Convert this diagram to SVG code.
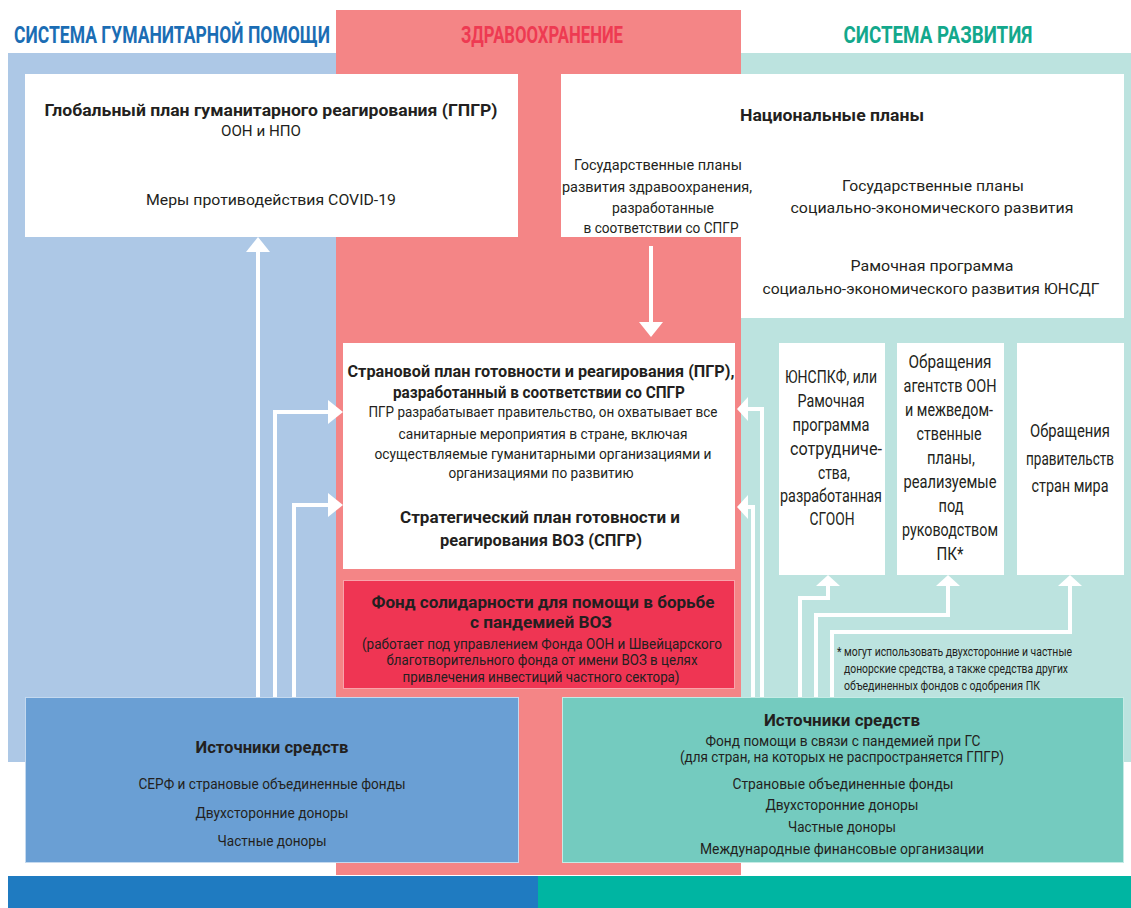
<svg xmlns="http://www.w3.org/2000/svg" width="1131" height="908" viewBox="0 0 1131 908">
<style>
.t{font-family:Roboto,"Liberation Sans","Noto Sans",sans-serif;fill:#231f20;text-anchor:middle}
.b{font-weight:bold}
.s17{font-size:17px}
.s15{font-size:15.5px}
.s14{font-size:14.5px}
.s18{font-size:17.5px}
.s13{font-size:13px}
.h{font-family:Roboto,"Liberation Sans",sans-serif;font-weight:bold;font-size:23px;text-anchor:middle}
.wbox{fill:#ffffff}
.con{fill:none;stroke:#ffffff;stroke-width:4;stroke-linejoin:miter}
</style>
<defs>
<marker id="ah" viewBox="0 0 15 24" refX="0" refY="12" markerWidth="15" markerHeight="24" markerUnits="userSpaceOnUse" orient="auto">
<path d="M0,0 L15,12 L0,24 Z" fill="#ffffff"/>
</marker>
<marker id="ahs" viewBox="0 0 11 24" refX="0" refY="12" markerWidth="11" markerHeight="24" markerUnits="userSpaceOnUse" orient="auto">
<path d="M0,0 L11,12 L0,24 Z" fill="#ffffff"/>
</marker>
</defs>
<rect x="0" y="0" width="1131" height="908" fill="#ffffff"/>
<g id="background">
<rect x="8" y="53" width="328" height="709" fill="#adc8e6"/>
<rect x="741" y="53" width="390" height="709" fill="#bce3df"/>
<rect x="336" y="10" width="405" height="865" fill="#f48586"/>
<rect x="8" y="876" width="530" height="32" fill="#1f7bc1"/>
<rect x="538" y="876" width="593" height="32" fill="#00b5a2"/>
</g>
<g id="headers">
<text class="h" x="172" y="43" fill="#1b6db4" textLength="316" lengthAdjust="spacingAndGlyphs">СИСТЕМА ГУМАНИТАРНОЙ ПОМОЩИ</text>
<text class="h" x="542" y="43" fill="#ee3a52" textLength="162" lengthAdjust="spacingAndGlyphs">ЗДРАВООХРАНЕНИЕ</text>
<text class="h" x="938" y="43" fill="#13a88c" textLength="189" lengthAdjust="spacingAndGlyphs">СИСТЕМА РАЗВИТИЯ</text>
</g>
<g id="ghrp">
<rect class="wbox" x="25" y="74" width="493" height="163"/>
<text class="t b s17" x="271" y="116" textLength="453" lengthAdjust="spacingAndGlyphs">Глобальный план гуманитарного реагирования (ГПГР)</text>
<text class="t s15" x="261" y="136" textLength="80" lengthAdjust="spacingAndGlyphs">ООН и НПО</text>
<text class="t s15" x="271" y="205" textLength="250" lengthAdjust="spacingAndGlyphs">Меры противодействия COVID-19</text>
</g>
<g id="national-plans">
<path class="wbox" d="M561,74 H1124 V318 H741 V237 H561 Z"/>
<text class="t b s17" x="832" y="121" textLength="184" lengthAdjust="spacingAndGlyphs">Национальные планы</text>
<text class="t s15" x="658" y="170" textLength="168" lengthAdjust="spacingAndGlyphs">Государственные планы</text>
<text class="t s15" x="657" y="192" textLength="190" lengthAdjust="spacingAndGlyphs">развития здравоохранения,</text>
<text class="t s15" x="663" y="213" textLength="102" lengthAdjust="spacingAndGlyphs">разработанные</text>
<text class="t s15" x="661" y="233" textLength="155" lengthAdjust="spacingAndGlyphs">в соответствии со СПГР</text>
<text class="t s15" x="933" y="191" textLength="182" lengthAdjust="spacingAndGlyphs">Государственные планы</text>
<text class="t s15" x="932" y="213" textLength="283" lengthAdjust="spacingAndGlyphs">социально-экономического развития</text>
<text class="t s15" x="932" y="271" textLength="163" lengthAdjust="spacingAndGlyphs">Рамочная программа</text>
<text class="t s15" x="931" y="294" textLength="337" lengthAdjust="spacingAndGlyphs">социально-экономического развития ЮНСДГ</text>
</g>
<g id="country-plan">
<rect class="wbox" x="343" y="343" width="392" height="226"/>
<text class="t b s17" x="541" y="377" textLength="387" lengthAdjust="spacingAndGlyphs">Страновой план готовности и реагирования (ПГР),</text>
<text class="t b s17" x="539" y="398" textLength="292" lengthAdjust="spacingAndGlyphs">разработанный в соответствии со СПГР</text>
<text class="t s15" x="543" y="417" textLength="349" lengthAdjust="spacingAndGlyphs">ПГР разрабатывает правительство, он охватывает все</text>
<text class="t s15" x="543" y="439" textLength="289" lengthAdjust="spacingAndGlyphs">санитарные мероприятия в стране, включая</text>
<text class="t s15" x="543" y="459" textLength="337" lengthAdjust="spacingAndGlyphs">осуществляемые гуманитарными организациями и</text>
<text class="t s15" x="541" y="478" textLength="185" lengthAdjust="spacingAndGlyphs">организациями по развитию</text>
<text class="t b s17" x="540" y="523" textLength="280" lengthAdjust="spacingAndGlyphs">Стратегический план готовности и</text>
<text class="t b s17" x="541" y="546" textLength="202" lengthAdjust="spacingAndGlyphs">реагирования ВОЗ (СПГР)</text>
</g>
<g id="solidarity-fund">
<rect x="343.5" y="580.5" width="391" height="108" fill="#ef3553" stroke="#f9a3ab" stroke-width="1"/>
<text class="t b s17" x="543" y="608" textLength="343" lengthAdjust="spacingAndGlyphs">Фонд солидарности для помощи в борьбе</text>
<text class="t b s17" x="541" y="628" textLength="142" lengthAdjust="spacingAndGlyphs">с пандемией ВОЗ</text>
<text class="t s15" x="542" y="649" textLength="360" lengthAdjust="spacingAndGlyphs">(работает под управлением Фонда ООН и Швейцарского</text>
<text class="t s15" x="542" y="665" textLength="311" lengthAdjust="spacingAndGlyphs">благотворительного фонда от имени ВОЗ в целях</text>
<text class="t s15" x="541" y="682" textLength="277" lengthAdjust="spacingAndGlyphs">привлечения инвестиций частного сектора)</text>
</g>
<g id="undaf">
<rect class="wbox" x="779" y="343" width="106" height="232"/>
<text class="t s18" x="831" y="383" textLength="92" lengthAdjust="spacingAndGlyphs">ЮНСПКФ, или</text>
<text class="t s18" x="831" y="407" textLength="67" lengthAdjust="spacingAndGlyphs">Рамочная</text>
<text class="t s18" x="831" y="431" textLength="77" lengthAdjust="spacingAndGlyphs">программа</text>
<text class="t s18" x="836" y="455" textLength="92" lengthAdjust="spacingAndGlyphs">сотрудниче-</text>
<text class="t s18" x="834" y="479" textLength="32" lengthAdjust="spacingAndGlyphs">ства,</text>
<text class="t s18" x="831" y="502" textLength="102" lengthAdjust="spacingAndGlyphs">разработанная</text>
<text class="t s18" x="832" y="525" textLength="45" lengthAdjust="spacingAndGlyphs">СГООН</text>
</g>
<g id="agency-appeals">
<rect class="wbox" x="897" y="343" width="107" height="232"/>
<text class="t s18" x="950" y="368" textLength="83" lengthAdjust="spacingAndGlyphs">Обращения</text>
<text class="t s18" x="950" y="392" textLength="93" lengthAdjust="spacingAndGlyphs">агентств ООН</text>
<text class="t s18" x="949" y="416" textLength="88" lengthAdjust="spacingAndGlyphs">и межведом-</text>
<text class="t s18" x="949" y="440" textLength="65" lengthAdjust="spacingAndGlyphs">ственные</text>
<text class="t s18" x="951" y="464" textLength="48" lengthAdjust="spacingAndGlyphs">планы,</text>
<text class="t s18" x="950" y="488" textLength="93" lengthAdjust="spacingAndGlyphs">реализуемые</text>
<text class="t s18" x="951" y="512" textLength="25" lengthAdjust="spacingAndGlyphs">под</text>
<text class="t s18" x="950" y="536" textLength="96" lengthAdjust="spacingAndGlyphs">руководством</text>
<text class="t s18" x="950" y="560" textLength="27" lengthAdjust="spacingAndGlyphs">ПК*</text>
</g>
<g id="government-appeals">
<rect class="wbox" x="1017" y="343" width="107" height="232"/>
<text class="t s18" x="1070" y="437" textLength="80" lengthAdjust="spacingAndGlyphs">Обращения</text>
<text class="t s18" x="1070" y="465" textLength="88" lengthAdjust="spacingAndGlyphs">правительств</text>
<text class="t s18" x="1070" y="492" textLength="77" lengthAdjust="spacingAndGlyphs">стран мира</text>
</g>
<g id="footnote">
<text class="t s13" x="837" y="656" style="text-anchor:start" textLength="235" lengthAdjust="spacingAndGlyphs">* могут использовать двухсторонние и частные</text>
<text class="t s13" x="844" y="673" style="text-anchor:start" textLength="224" lengthAdjust="spacingAndGlyphs">донорские средства, а также средства других</text>
<text class="t s13" x="844" y="690" style="text-anchor:start" textLength="196" lengthAdjust="spacingAndGlyphs">объединенных фондов с одобрения ПК</text>
</g>
<g id="connectors">
<path class="con" d="M258,697 V252" marker-end="url(#ah)"/>
<path class="con" d="M275,697 V412 H328" marker-end="url(#ah)"/>
<path class="con" d="M294,697 V505 H328" marker-end="url(#ah)"/>
<path class="con" d="M762,697 V409 H748" marker-end="url(#ahs)"/>
<path class="con" d="M753,697 V507 H748" marker-end="url(#ahs)"/>
<path class="con" d="M651,246 V322" marker-end="url(#ah)"/>
<path class="con" d="M800,697 V598 H828 V586" marker-end="url(#ahs)"/>
<path class="con" d="M816,697 V615 H948 V586" marker-end="url(#ahs)"/>
<path class="con" d="M832,697 V632 H1070 V586" marker-end="url(#ahs)"/>
</g>
<g id="humanitarian-sources">
<rect x="25.5" y="697.5" width="493" height="165" fill="#6a9fd4" stroke="#c4d9ef" stroke-width="1"/>
<text class="t b s17" x="272" y="753" textLength="153" lengthAdjust="spacingAndGlyphs">Источники средств</text>
<text class="t s15" x="272" y="789" textLength="267" lengthAdjust="spacingAndGlyphs">СЕРФ и страновые объединенные фонды</text>
<text class="t s15" x="272" y="818" textLength="153" lengthAdjust="spacingAndGlyphs">Двухсторонние доноры</text>
<text class="t s15" x="272" y="846" textLength="109" lengthAdjust="spacingAndGlyphs">Частные доноры</text>
</g>
<g id="development-sources">
<rect x="562.5" y="697.5" width="561" height="165" fill="#74cbbf" stroke="#c5ebe5" stroke-width="1"/>
<text class="t b s17" x="842" y="726" textLength="156" lengthAdjust="spacingAndGlyphs">Источники средств</text>
<text class="t s14" x="843" y="746" textLength="275" lengthAdjust="spacingAndGlyphs">Фонд помощи в связи с пандемией при ГС</text>
<text class="t s14" x="842" y="762" textLength="324" lengthAdjust="spacingAndGlyphs">(для стран, на которых не распространяется ГПГР)</text>
<text class="t s15" x="843" y="789" textLength="221" lengthAdjust="spacingAndGlyphs">Страновые объединенные фонды</text>
<text class="t s15" x="842" y="810" textLength="153" lengthAdjust="spacingAndGlyphs">Двухсторонние доноры</text>
<text class="t s15" x="842" y="832" textLength="108" lengthAdjust="spacingAndGlyphs">Частные доноры</text>
<text class="t s15" x="842" y="854" textLength="284" lengthAdjust="spacingAndGlyphs">Международные финансовые организации</text>
</g>
</svg>
